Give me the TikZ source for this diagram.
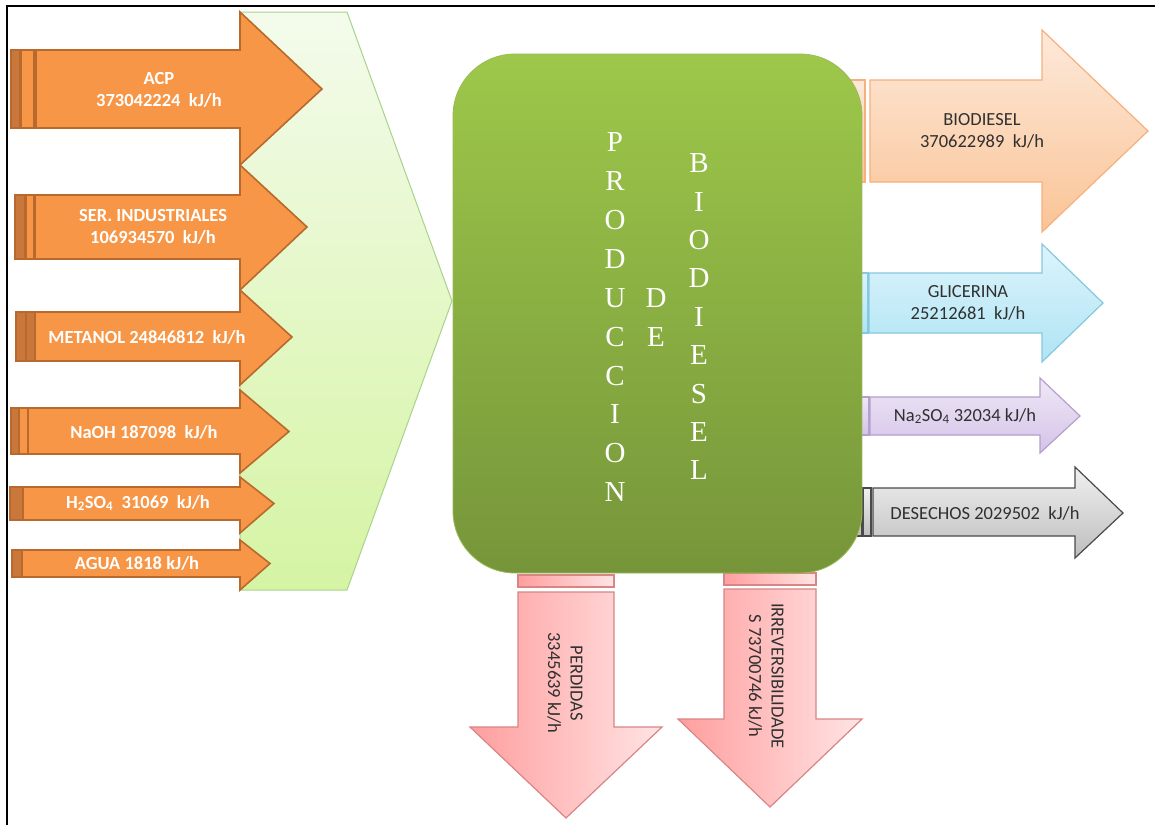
\documentclass[tikz,border=0pt]{standalone}
\usepackage{fontspec}
\setmainfont{Carlito}
\newfontfamily\lettersfont{Liberation Serif}
\definecolor{orangefill}{HTML}{F79646}
\definecolor{orangedraw}{HTML}{B86A2E}
\definecolor{orangedark}{HTML}{C9773A}
\definecolor{chevtop}{HTML}{F4FBEC}
\definecolor{chevbot}{HTML}{D5F4A3}
\definecolor{chevdraw}{HTML}{A9D38C}
\definecolor{boxtop}{HTML}{9DC84A}
\definecolor{boxbot}{HTML}{76953A}
\definecolor{boxdraw}{HTML}{9BBB59}
\definecolor{peachtop}{HTML}{FDE9DA}
\definecolor{peachbot}{HTML}{FAC496}
\definecolor{peachdraw}{HTML}{F7B07C}
\definecolor{bluetop}{HTML}{DDF4FB}
\definecolor{bluebot}{HTML}{AFE4F5}
\definecolor{bluedraw}{HTML}{86C9DE}
\definecolor{purptop}{HTML}{EFE8F6}
\definecolor{purpbot}{HTML}{D4C3E8}
\definecolor{purpdraw}{HTML}{B3A0CC}
\definecolor{graytop}{HTML}{F0F0F0}
\definecolor{graybot}{HTML}{BEBEBE}
\definecolor{graydraw}{HTML}{4A4A4A}
\definecolor{pinkleft}{HTML}{FF9E9E}
\definecolor{pinkright}{HTML}{FFE4E4}
\definecolor{pinkdraw}{HTML}{D98585}
\definecolor{darktext}{HTML}{303030}
\tikzset{
  inarrow/.style={fill=orangefill, draw=orangedraw, line width=1.6pt, line join=miter},
  instrip/.style={fill=orangedark, draw=orangedraw, line width=1.2pt},
  instripl/.style={fill=orangefill, draw=orangedraw, line width=1.2pt},
  inlabel/.style={text=white, font=\bfseries\fontsize{18.5}{22.5}\selectfont, align=center, inner sep=0pt},
  outlabel/.style={text=darktext, font=\fontsize{18.5}{22.5}\selectfont, align=center, inner sep=0pt},
  bigletter/.style={text=white, font=\lettersfont\fontsize{29}{29}\selectfont, text height=19.2pt, text depth=0pt, inner sep=0pt},
  peach/.style={top color=peachtop, bottom color=peachbot, draw=peachdraw, line width=1.2pt},
  bluea/.style={top color=bluetop, bottom color=bluebot, draw=bluedraw, line width=1.2pt},
  purp/.style={top color=purptop, bottom color=purpbot, draw=purpdraw, line width=1.2pt},
  graya/.style={top color=graytop, bottom color=graybot, draw=graydraw, line width=1.2pt},
  pinka/.style={left color=pinkleft, right color=pinkright, draw=pinkdraw, line width=1.2pt},
}
\begin{document}
\begin{tikzpicture}[x=1pt,y=-1pt]
\useasboundingbox[fill=white] (0,0) rectangle (1155,825);
% frame
\draw[line width=2.4pt] (7,825) -- (7,6) -- (1155,6);

% light green chevron
\path[draw=chevdraw, line width=1pt, top color=chevtop, bottom color=chevbot]
  (240,12) -- (347,12) -- (452,301) -- (347,590) -- (240,590) -- cycle;

% ---- input arrows (orange)
% AGUA
\draw[inarrow] (22,550) -- (240,550) -- (240,540) -- (270,563.5) -- (240,590) -- (240,577) -- (22,577) -- cycle;
\draw[instrip] (12,550) rectangle (22,577);
% H2SO4
\draw[inarrow] (23,487) -- (240,487) -- (240,477) -- (274,503.5) -- (240,533) -- (240,520) -- (23,520) -- cycle;
\draw[instrip] (10,487) rectangle (23,520);
% NaOH
\draw[inarrow] (28,408) -- (240,408) -- (240,390) -- (289,431.5) -- (240,473) -- (240,454) -- (28,454) -- cycle;
\draw[instrip] (11,408) rectangle (19,454);
\draw[instripl] (19,408) rectangle (28,454);
% METANOL
\draw[inarrow] (35,312) -- (240,312) -- (240,290) -- (292,337) -- (240,385) -- (240,361) -- (35,361) -- cycle;
\draw[instrip] (16,312) rectangle (26,361);
\draw[instrip] (26,312) rectangle (35,361);
% SER. INDUSTRIALES
\draw[inarrow] (35,195) -- (240,195) -- (240,165) -- (307,227) -- (240,290) -- (240,259) -- (35,259) -- cycle;
\draw[instrip] (15,195) rectangle (25,259);
\draw[instripl] (26,195) rectangle (34,259);
% ACP
\draw[inarrow] (36,50) -- (240,50) -- (240,12) -- (322,89) -- (240,165) -- (240,128) -- (36,128) -- cycle;
\draw[instrip] (11,50) rectangle (20,128);
\draw[instripl] (21,50) rectangle (34,128);

\node[inlabel] (acp) at (159,90) {ACP\\373042224\ \ kJ/h};
\node[inlabel] (ser) at (153,227) {SER. INDUSTRIALES\\106934570\ \ kJ/h};
\node[inlabel] (met) at (147,337) {METANOL 24846812\ \ kJ/h};
\node[inlabel] (naoh) at (144,432) {NaOH 187098\ \ kJ/h};
\node[inlabel] (h2so4) at (138,503) {H\textsubscript{2}SO\textsubscript{4}\ \ 31069\ \ kJ/h};
\node[inlabel] (agua) at (137,563) {AGUA 1818 kJ/h};

% ---- output arrows (behind strips)
% BIODIESEL
\draw[peach] (848,80) rectangle (865,182);
\path[peach] (870,80) -- (1042,80) -- (1042,30) -- (1148,131) -- (1042,232) -- (1042,182) -- (870,182) -- cycle;
% GLICERINA
\draw[bluea] (860,273) rectangle (868,333);
\path[bluea] (869,273) -- (1042,273) -- (1042,244) -- (1103,303) -- (1042,362) -- (1042,333) -- (869,333) -- cycle;
% Na2SO4
\draw[purp] (860,397) rectangle (869,435);
\path[purp] (870,397) -- (1040,397) -- (1040,378) -- (1080,416) -- (1040,453) -- (1040,435) -- (870,435) -- cycle;
% DESECHOS
\draw[graya] (852,488) rectangle (862,536);
\draw[graya] (863,488) rectangle (871,536);
\path[graya] (873,488) -- (1075,488) -- (1075,467) -- (1123,513) -- (1075,558) -- (1075,536) -- (873,536) -- cycle;

\node[outlabel] (biod) at (982,131) {BIODIESEL\\370622989\ \ kJ/h};
\node[outlabel] (glic) at (968,303) {GLICERINA\\25212681\ \ kJ/h};
\node[outlabel] (na2so4) at (965,416) {Na\textsubscript{2}SO\textsubscript{4} 32034 kJ/h};
\node[outlabel] (desec) at (985,513) {DESECHOS 2029502\ \ kJ/h};

% ---- down arrows
\draw[pinka] (518,575) rectangle (614,587);
\path[pinka] (518,592) -- (614,592) -- (614,727) -- (662,727) -- (566,818) -- (470,727) -- (518,727) -- cycle;
\draw[pinka] (724,573) rectangle (816,585);
\path[pinka] (724,589) -- (816,589) -- (816,719) -- (862,719) -- (770,807) -- (678,719) -- (724,719) -- cycle;

\node[outlabel, rotate=-90] (perd) at (565,683) {PERDIDAS\\3345639 kJ/h};
\node[outlabel, rotate=-90] (irrev) at (766,676) {IRREVERSIBILIDADE\\S 73700746 kJ/h};

% ---- central box
\node[draw=boxdraw, line width=0.8pt, rounded corners=62pt, minimum width=409pt, minimum height=519pt,
      top color=boxtop, bottom color=boxbot, inner sep=0pt] (box) at (657.5,313.5) {};

\foreach \l [count=\i] in {P,R,O,D,U,C,C,I,O,N}
  \node[bigletter] (prod\i) at (615,{142+38.9*(\i-1)}) {\l};
\foreach \l [count=\i] in {D,E}
  \node[bigletter] (de\i) at (656,{298+39*(\i-1)}) {\l};
\foreach \l [count=\i] in {B,I,O,D,I,E,S,E,L}
  \node[bigletter] (bio\i) at (699,{163+38.4*(\i-1)}) {\l};
\end{tikzpicture}
\end{document}
